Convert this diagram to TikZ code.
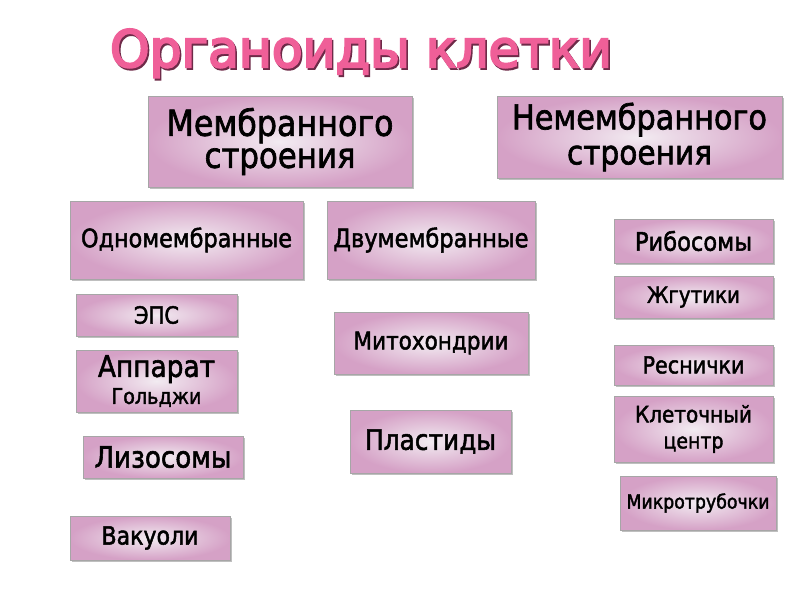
\documentclass[tikz,border=0pt]{standalone}
\usepackage{fontspec}
\setmainfont{DejaVu Sans}[FakeBold=2]
\newfontfamily\titlefont{DejaVu Sans}[FakeBold=4]
\usetikzlibrary{shadows}
\definecolor{boxedge}{HTML}{D5A1C6}
\definecolor{boxmid}{HTML}{F2EBF1}
\definecolor{titlepink}{HTML}{EF5F98}
\definecolor{titleshadow}{HTML}{6E2A48}
\newcommand{\fw}[2]{\scalebox{1}[1.13]{\resizebox{#1pt}{!}{#2}}}
\tikzset{
  box/.style={draw=gray!70, line width=0.6pt, inner sep=0pt, align=center,
    shading=radial, inner color=boxmid, outer color=boxedge,
    drop shadow={shadow xshift=1.5pt, shadow yshift=-1.5pt, opacity=0.25, fill=black},
    text=black, font=\fontsize{16}{27}\selectfont},
  lsp/.style={font=\fontsize{16}{#1}\selectfont}
}
\begin{document}
\begin{tikzpicture}[x=1pt,y=-1pt]
\useasboundingbox[fill=white] (0,0) rectangle (800,600);
\node[anchor=base, inner sep=0pt, font=\titlefont\fontsize{40}{48}\selectfont] (title) at (361,67)
  {\resizebox{502pt}{38pt}{\makebox[0pt][l]{\raisebox{-1.5pt}{\hspace{1.2pt}\color{titleshadow}Органоиды клетки}}\color{titlepink}Органоиды клетки}};

\node[box, minimum width=264pt, minimum height=91pt, lsp=32] (m) at (280,141.5) {\fw{227}{Мембранного}\\\fw{151}{строения}};
\node[box, minimum width=285pt, minimum height=82pt, lsp=35] (nm) at (639.5,137) {\fw{255}{Немембранного}\\\fw{145}{строения}};
\node[box, minimum width=233pt, minimum height=78pt] (odn) at (186.5,240) {\fw{211}{Одномембранные}};
\node[box, minimum width=208pt, minimum height=78pt] (dvu) at (431,240) {\fw{195}{Двумембранные}};
\node[box, minimum width=159pt, minimum height=44pt] (rib) at (693.5,241) {\fw{117}{Рибосомы}};
\node[box, minimum width=159pt, minimum height=42pt] (zhg) at (693.5,297) {\fw{93}{Жгутики}};
\node[box, minimum width=161pt, minimum height=42pt] (eps) at (156.5,315) {\fw{45}{ЭПС}};
\node[box, minimum width=194pt, minimum height=62pt] (mit) at (431,343) {\fw{155}{Митохондрии}};
\node[box, minimum width=161pt, minimum height=62pt, lsp=27] (golgi) at (156.5,381) {\fw{117}{Аппарат}\\\fw{90}{Гольджи}};
\node[box, minimum width=159pt, minimum height=66pt, lsp=26] (kc) at (693.5,429) {\fw{117}{Клеточный}\\\fw{60}{центр}};
\node[box, minimum width=159pt, minimum height=40pt] (resn) at (693.5,365) {\fw{102}{Реснички}};
\node[box, minimum width=161pt, minimum height=63pt] (plast) at (430.5,441.5) {\fw{131}{Пластиды}};
\node[box, minimum width=160pt, minimum height=42pt] (liz) at (163,457) {\fw{137}{Лизосомы}};
\node[box, minimum width=156pt, minimum height=54pt] (mikro) at (698,503) {\fw{143}{Микротрубочки}};
\node[box, minimum width=160pt, minimum height=44pt] (vak) at (150,538) {\fw{97}{Вакуоли}};
\end{tikzpicture}
\end{document}
